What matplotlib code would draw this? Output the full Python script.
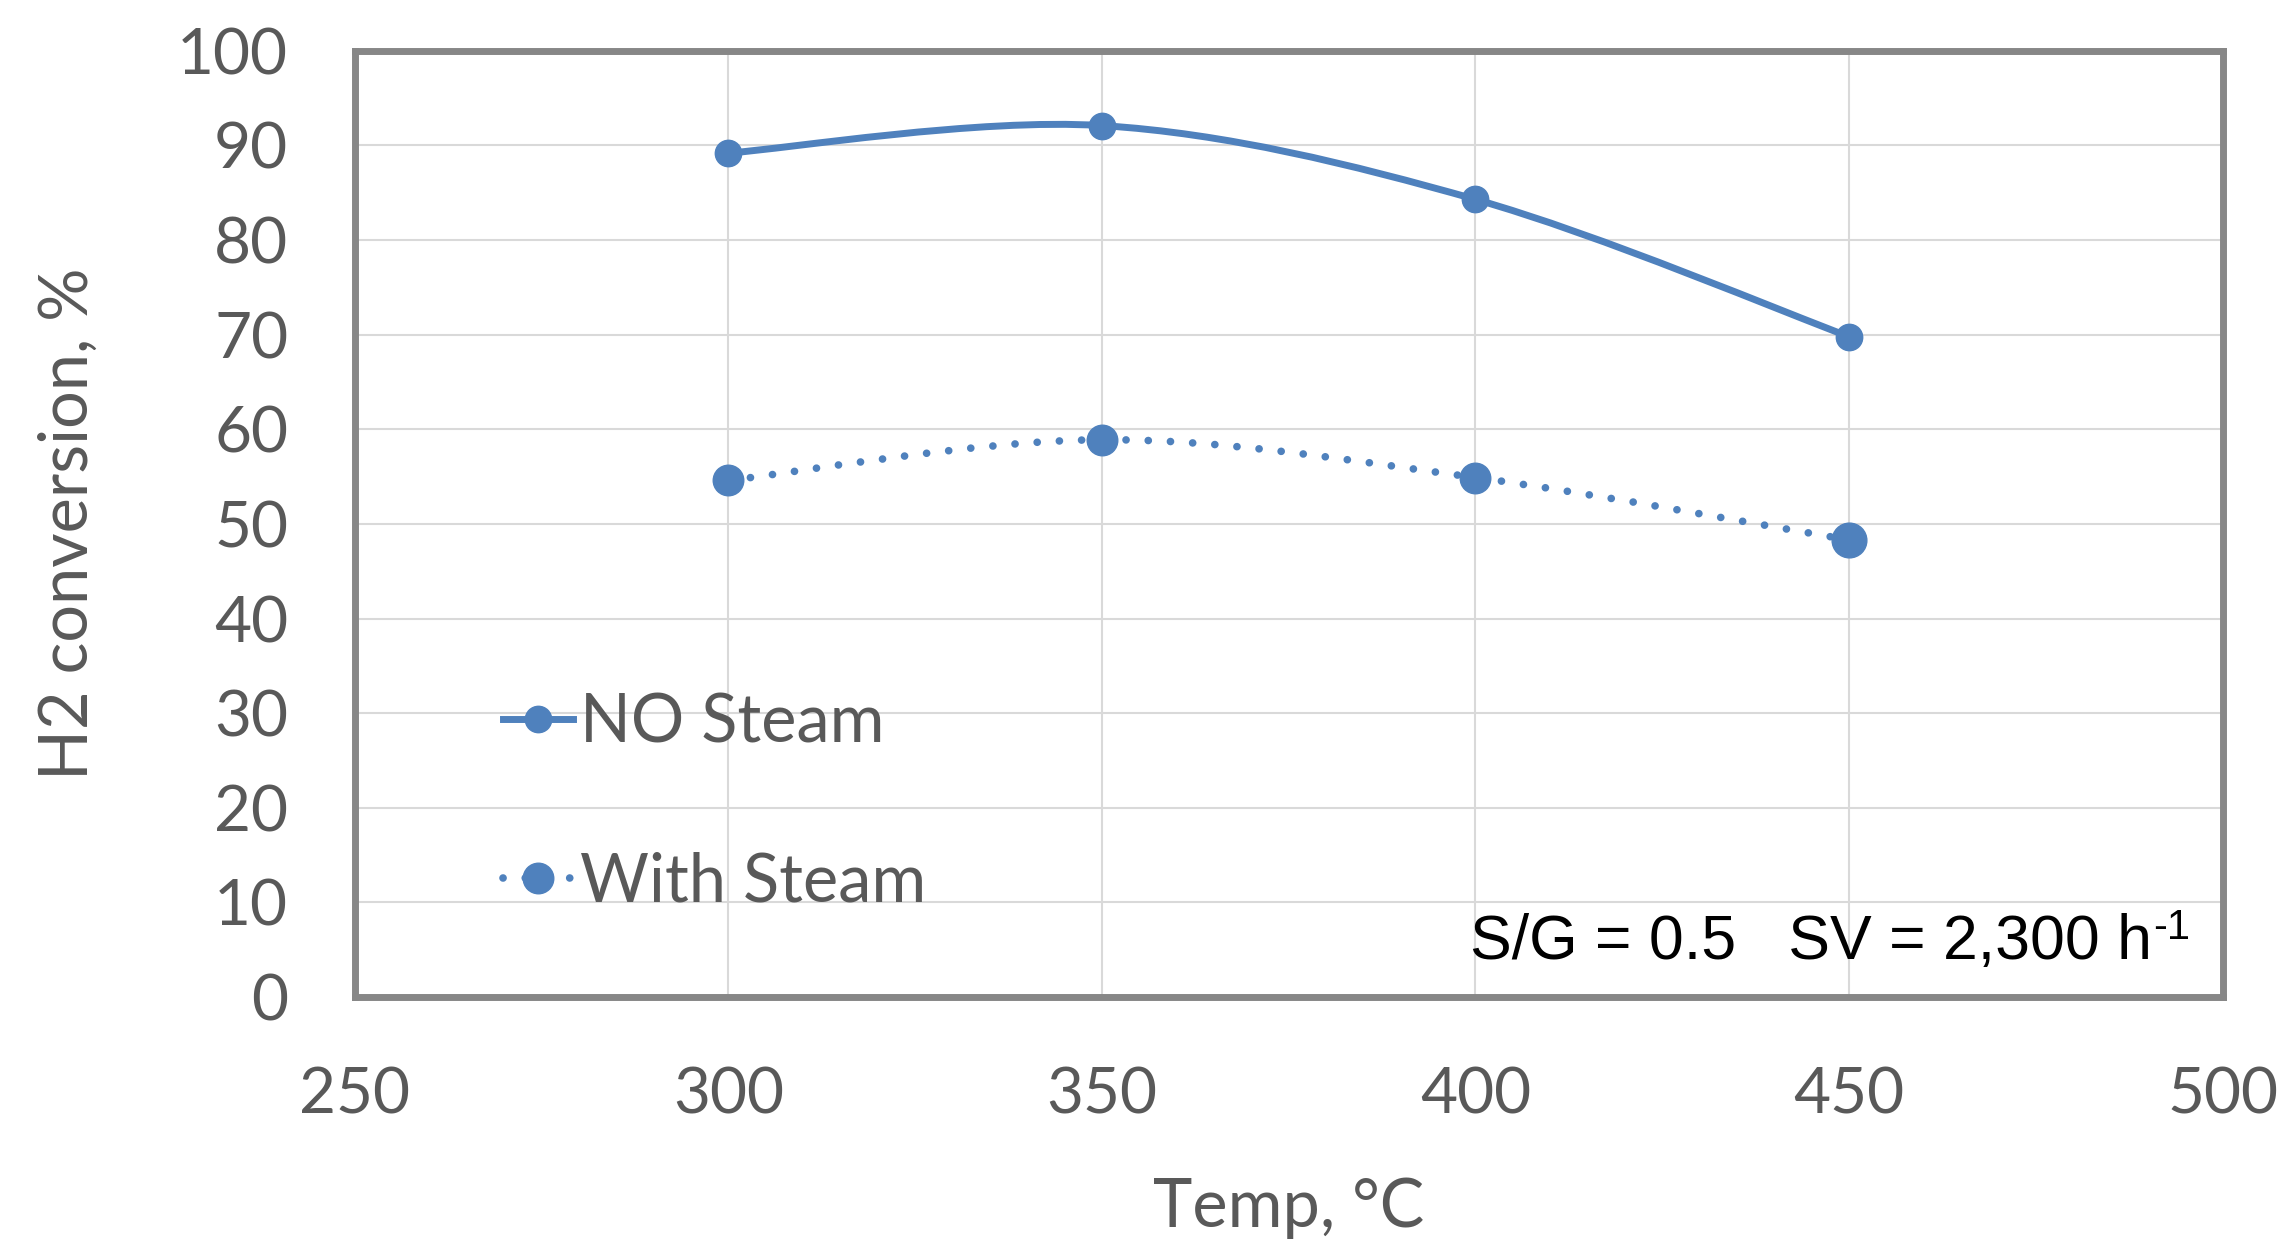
import numpy as np
import matplotlib
matplotlib.use("Agg")
from matplotlib import pyplot as plt
from matplotlib.path import Path
from matplotlib.patches import PathPatch
from matplotlib.lines import Line2D

plt.rcParams['font.family'] = ['Lato', 'DejaVu Sans']

temps = [300, 350, 400, 450]
no_steam = [89.2, 92.1, 84.3, 69.8]
with_steam = [54.6, 58.9, 54.9, 48.3]
series_labels = ['NO Steam', 'With Steam']
x_ticks = [250, 300, 350, 400, 450, 500]
y_ticks = list(range(0, 101, 10))

blue = '#4f81bd'
txt = '#595959'


def smooth_path(x, y):
    # Excel-like smoothed line: cubic bezier segments (catmull-rom, tension 1/6)
    p = np.column_stack([x, y]).astype(float)
    pts = [p[0]]
    codes = [Path.MOVETO]
    n = len(p)
    for i in range(n - 1):
        p0 = p[i - 1] if i > 0 else p[i]
        p3 = p[i + 2] if i + 2 < n else p[i + 1]
        c1 = p[i] + (p[i + 1] - p0) / 6.0
        c2 = p[i + 1] - (p3 - p[i]) / 6.0
        pts += [c1, c2, p[i + 1]]
        codes += [Path.CURVE4] * 3
    return Path(pts, codes)


fig = plt.figure(figsize=(22.89, 12.40), dpi=100)
ax = fig.add_axes([0.155, 0.196, 0.816, 0.763])

ax.add_patch(PathPatch(smooth_path(temps, no_steam), fill=False, edgecolor=blue,
                       lw=5, capstyle='round', zorder=3))
ax.add_patch(PathPatch(smooth_path(temps, with_steam), fill=False, edgecolor=blue,
                       lw=5.5, linestyle=(0, (0.01, 2.9)), capstyle='round', zorder=3))
ax.plot(temps, no_steam, 'o', color=blue, ms=19, zorder=4)
ax.plot(temps[:3], with_steam[:3], 'o', color=blue, ms=22, zorder=4)
ax.plot(temps[3:], with_steam[3:], 'o', color=blue, ms=25, zorder=4)

ax.set_xlim(250, 500)
ax.set_ylim(0, 100)
ax.set_xticks(x_ticks)
ax.set_yticks(y_ticks)
ax.grid(True, color='#d9d9d9', lw=1.5)
ax.set_axisbelow(True)
ax.tick_params(length=0, labelsize=46, labelcolor=txt)
ax.tick_params(axis='x', pad=50)
ax.tick_params(axis='y', pad=48)
for s in ax.spines.values():
    s.set_color('#878787')
    s.set_linewidth(5)

ax.set_xlabel('Temp, °C', fontsize=48, color=txt, labelpad=38)
ax.set_ylabel('H2 conversion, %', fontsize=48, color=txt, labelpad=56)

h1 = Line2D([], [], color=blue, lw=5, marker='o', ms=19)
h2 = Line2D([], [], color=blue, lw=5.5, linestyle=(0, (0.01, 2.9)),
            dash_capstyle='round', marker='o', ms=22)
leg = ax.legend([h1, h2], series_labels, loc='upper left', bbox_to_anchor=(0.065, 0.35),
                frameon=False, fontsize=48, labelcolor=txt, handlelength=1.05,
                handletextpad=0.1, labelspacing=1.45, borderaxespad=0)

t = ax.text(0.962, 0.04, 'S/G = 0.5   SV = 2,300 h', transform=ax.transAxes,
            ha='right', va='baseline', fontsize=45, color='black', family='Liberation Sans')
ax.annotate('-1', xy=(1, 1), xycoords=t, xytext=(1, 4), textcoords='offset points',
            ha='left', va='top', fontsize=30, color='black', family='Liberation Sans')

fig.savefig('out.png', dpi=100)
